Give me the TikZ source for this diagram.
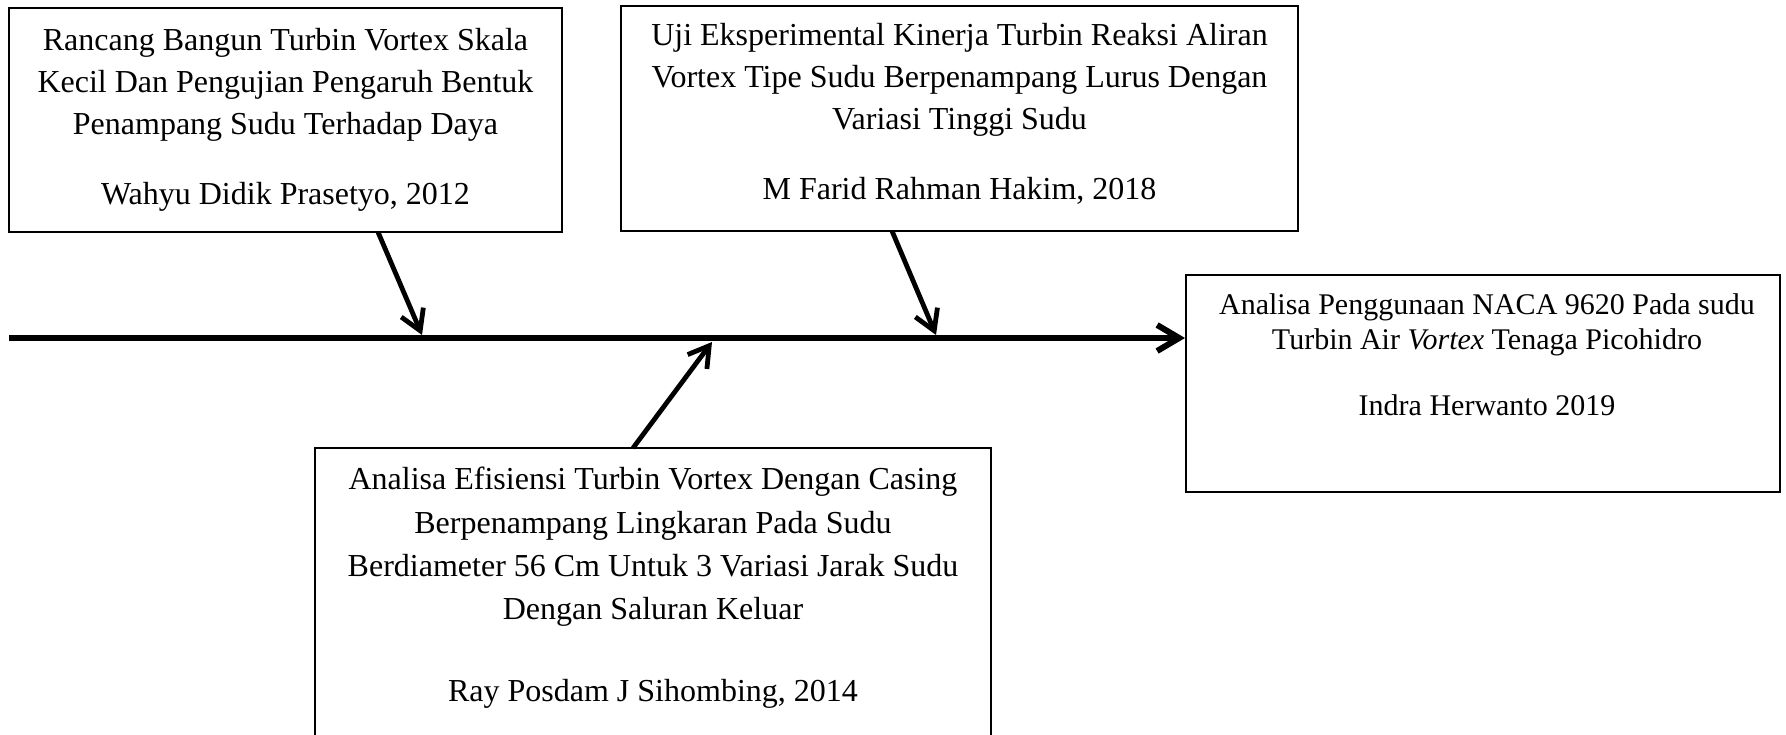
\documentclass[tikz,border=0pt]{standalone}
\usepackage{fontspec}
\setmainfont{Liberation Serif}
\usetikzlibrary{arrows.meta,fit}
\begin{document}
\begin{tikzpicture}[x=0.5pt,y=-0.5pt,
	box/.style={draw,line width=1pt,inner sep=0pt},
	txt/.style={align=center,inner sep=0pt,anchor=north,font=\fontsize{16pt}{21pt}\selectfont},
	bone/.style={line width=3pt,-{Straight Barb[length=11pt,width=13pt]}},
	rib/.style={line width=2.4pt,-{Straight Barb[length=10pt,width=12pt]}}]
		\clip (0,0) rectangle (1786,734);
		\path
		(9,338) coordinate (L)
		(378,232) coordinate (s1)
		(422,335) coordinate (e1)
		(892,231) coordinate (s2)
		(936,335) coordinate (e2)
		(633,448) coordinate (s3)
		(712,342) coordinate (e3)
		;
		\node[box,fit={(9,8) (562,232)}] (r1) {};
		\node[box,fit={(621,6) (1298,231)}] (r2) {};
		\node[box,fit={(315,448) (991,745)}] (r3) {};
		\node[box,fit={(1186,275) (1780,492)}] (r4) {};
		\node[txt] (t1) at (285.5,28) {Rancang Bangun Turbin Vortex Skala\\Kecil Dan Pengujian Pengaruh Bentuk\\Penampang Sudu Terhadap Daya\\[14pt]Wahyu Didik Prasetyo, 2012};
		\node[txt] (t2) at (959.5,23) {Uji Eksperimental Kinerja Turbin Reaksi Aliran\\Vortex Tipe Sudu Berpenampang Lurus Dengan\\Variasi Tinggi Sudu\\[14pt]M Farid Rahman Hakim, 2018};
		\node[txt,font=\fontsize{16pt}{21.65pt}\selectfont] (t3) at (653,467) {Analisa Efisiensi Turbin Vortex Dengan Casing\\Berpenampang Lingkaran Pada Sudu\\Berdiameter 56 Cm Untuk 3 Variasi Jarak Sudu\\Dengan Saluran Keluar\\[19pt]Ray Posdam J Sihombing, 2014};
		\node[txt,font=\fontsize{15pt}{17.5pt}\selectfont] (t4) at (1487,293) {Analisa Penggunaan NACA 9620 Pada sudu\\Turbin Air \textit{Vortex} Tenaga Picohidro\\[15.5pt]Indra Herwanto 2019};
		\draw[bone] (L)--(L-|r4.west);
		\draw[rib]
		(s1)--(e1);
		\draw[rib]
		(s2)--(e2);
		\draw[rib]
		(s3)--(e3);
\end{tikzpicture}
\end{document}
